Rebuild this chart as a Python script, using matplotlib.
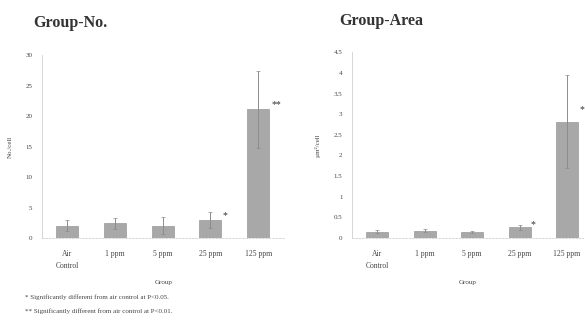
import matplotlib
matplotlib.use('Agg')
import matplotlib.pyplot as plt

plt.rcParams['font.family'] = ['Liberation Serif', 'DejaVu Serif']

groups = ['Air\nControl', '1 ppm', '5 ppm', '25 ppm', '125 ppm']

no_mean = [2.0, 2.4, 2.0, 2.9, 21.1]
no_err = [0.9, 0.9, 1.4, 1.3, 6.3]
no_marks = ['', '', '', '*', '**']

area_mean = [0.15, 0.17, 0.14, 0.25, 2.82]
area_err = [0.04, 0.04, 0.03, 0.06, 1.12]
area_marks = ['', '', '', '*', '*']

bar_col = '#a8a8a8'
err_col = '#8c8c8c'

fig = plt.figure(figsize=(5.85, 3.29), dpi=100)

def panel(rect, means, errs, marks, ylim, yticks, yticklabels, ylabel, title,
          xlim, mark_dx, mark_dy, title_xy):
    ax = fig.add_axes(rect)
    x = list(range(len(groups)))
    ax.bar(x, means, width=0.46, color=bar_col, edgecolor='#999999', linewidth=0.5)
    ax.errorbar(x, means, yerr=errs, fmt='none', ecolor=err_col, elinewidth=0.7,
                capsize=1.5, capthick=0.5)
    for i, m in enumerate(marks):
        if m:
            ax.text(i + mark_dx[i], means[i] + mark_dy[i], m, fontsize=7,
                    ha='left', va='center', color='#333333')
    ax.set_xlim(*xlim)
    ax.set_ylim(*ylim)
    ax.set_yticks(yticks)
    ax.set_yticklabels(yticklabels, fontsize=5, color='#444444')
    ax.set_xticks(x)
    ax.set_xticklabels(groups, fontsize=5.5, color='#444444', linespacing=1.6)
    ax.tick_params(axis='y', length=0, pad=7)
    ax.tick_params(axis='x', length=0, pad=9)
    for s in ['top', 'right']:
        ax.spines[s].set_visible(False)
    ax.spines['left'].set_color('#d0d0d0')
    ax.spines['left'].set_linewidth(0.6)
    ax.spines['bottom'].set_color('#d0d0d0')
    ax.spines['bottom'].set_linewidth(0.6)
    ax.spines['bottom'].set_linestyle((0, (2, 2)))
    ax.set_ylabel(ylabel, fontsize=5, color='#444444', labelpad=9)
    ax.set_xlabel('Group', fontsize=5, color='#444444', labelpad=7)
    fig.text(title_xy[0], title_xy[1], title, fontsize=11.5, fontweight='bold',
             color='#333333', ha='left', va='center')
    return ax

panel([0.072, 0.2766, 0.415, 0.556], no_mean, no_err, no_marks,
      (0, 30), [0, 5, 10, 15, 20, 25, 30],
      ['0', '5', '10', '15', '20', '25', '30'],
      'No./cell', 'Group-No.', (-0.52, 4.56),
      [0, 0, 0, 0.26, 0.27], [0, 0, 0, 0.7, 0.7], (0.056, 0.93))

panel([0.602, 0.2775, 0.395, 0.5635], area_mean, area_err, area_marks,
      (0, 4.5), [0, 0.5, 1, 1.5, 2, 2.5, 3, 3.5, 4, 4.5],
      ['0', '0.5', '1', '1.5', '2', '2.5', '3', '3.5', '4', '4.5'],
      'µm²/cell', 'Group-Area', (-0.53, 4.34),
      [0, 0, 0, 0.22, 0.27], [0, 0, 0, 0.06, 0.28], (0.58, 0.935))

fig.text(0.043, 0.097, '* Significantly different from air control at P<0.05.',
         fontsize=5, color='#444444', ha='left', va='center')
fig.text(0.043, 0.054, '** Significantly different from air control at P<0.01.',
         fontsize=5, color='#444444', ha='left', va='center')

fig.savefig('out.png', dpi=100)
